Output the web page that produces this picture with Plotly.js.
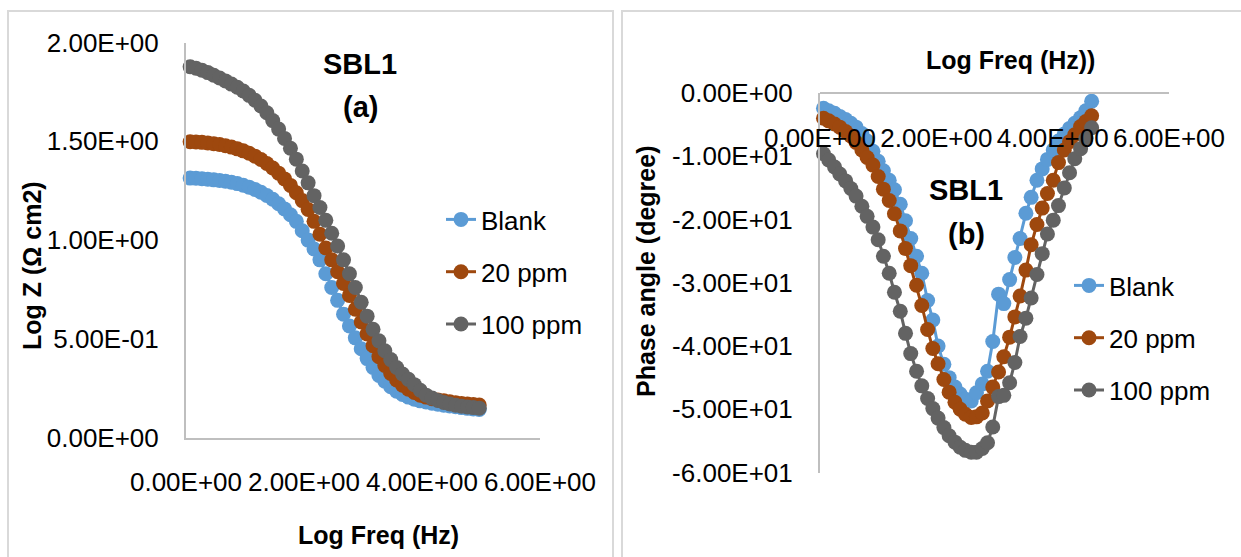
<!DOCTYPE html>
<html>
<head>
<meta charset="utf-8">
<script src="https://cdn.plot.ly/plotly-3.0.1.min.js"></script>
<style>
  html, body { margin: 0; padding: 0; background: #ffffff; }
  #chart { width: 1241px; height: 557px; }
</style>
</head>
<body>
<div id="chart"></div>
<script>
// (a) Bode magnitude: log frequency (Hz) and log |Z| (ohm cm2)
const logFreqA = [0.07, 0.17, 0.27, 0.37, 0.47, 0.57, 0.67, 0.77, 0.87, 0.97,
                  1.07, 1.17, 1.27, 1.37, 1.47, 1.57, 1.67, 1.77, 1.87, 1.97,
                  2.07, 2.17, 2.27, 2.37, 2.47, 2.57, 2.67, 2.77, 2.87, 2.97,
                  3.07, 3.17, 3.27, 3.37, 3.47, 3.57, 3.67, 3.77, 3.87, 3.97,
                  4.07, 4.17, 4.27, 4.37, 4.47, 4.57, 4.67, 4.77, 4.87, 4.97];
const logZBlank = [1.314, 1.313, 1.311, 1.308, 1.305, 1.302, 1.298, 1.293, 1.286, 1.278,
                   1.268, 1.256, 1.242, 1.226, 1.207, 1.184, 1.158, 1.128, 1.095, 1.047,
                   1.000, 0.955, 0.900, 0.830, 0.760, 0.695, 0.625, 0.565, 0.505, 0.450,
                   0.400, 0.355, 0.315, 0.285, 0.258, 0.235, 0.218, 0.205, 0.194, 0.186,
                   0.180, 0.174, 0.169, 0.164, 0.160, 0.156, 0.152, 0.148, 0.145, 0.142];
const logZ20ppm = [1.498, 1.497, 1.495, 1.492, 1.488, 1.484, 1.478, 1.471, 1.462, 1.452,
                   1.440, 1.425, 1.408, 1.388, 1.365, 1.339, 1.310, 1.277, 1.240, 1.200,
                   1.155, 1.095, 1.030, 0.960, 0.900, 0.840, 0.780, 0.720, 0.650, 0.585,
                   0.525, 0.465, 0.410, 0.365, 0.325, 0.292, 0.265, 0.245, 0.228, 0.215,
                   0.205, 0.197, 0.191, 0.186, 0.181, 0.177, 0.173, 0.170, 0.167, 0.165];
const logZ100ppm = [1.878, 1.870, 1.860, 1.848, 1.835, 1.821, 1.806, 1.790, 1.774, 1.755,
                    1.733, 1.708, 1.679, 1.645, 1.605, 1.562, 1.515, 1.465, 1.410, 1.350,
                    1.290, 1.225, 1.165, 1.100, 1.035, 0.970, 0.900, 0.830, 0.760, 0.685,
                    0.615, 0.548, 0.490, 0.440, 0.395, 0.355, 0.322, 0.295, 0.268, 0.240,
                    0.215, 0.200, 0.188, 0.178, 0.170, 0.164, 0.159, 0.155, 0.152, 0.149];

// (b) Bode phase: log frequency (Hz) and phase angle (degree)
const logFreqB = [0.06, 0.15, 0.25, 0.34, 0.44, 0.53, 0.62, 0.72, 0.81, 0.91,
                  1.00, 1.09, 1.19, 1.28, 1.38, 1.47, 1.56, 1.66, 1.75, 1.85,
                  1.94, 2.03, 2.13, 2.22, 2.32, 2.41, 2.50, 2.60, 2.69, 2.79,
                  2.88, 2.97, 3.07, 3.16, 3.26, 3.35, 3.44, 3.54, 3.63, 3.73,
                  3.82, 3.91, 4.01, 4.10, 4.20, 4.29, 4.38, 4.48, 4.57, 4.67];
const phaseBlank = [-2.4, -2.8, -3.2, -3.7, -4.2, -4.8, -5.4, -6.4, -7.6, -9.2,
                    -10.8, -12.3, -13.8, -15.3, -17.6, -20.2, -23.0, -25.8, -28.5, -32.8,
                    -35.9, -40.0, -42.9, -45.0, -46.5, -47.6, -48.4, -48.7, -47.4, -46.0,
                    -44.0, -39.3, -31.8, -33.3, -29.5, -26.0, -23.0, -19.0, -16.5, -13.8,
                    -12.0, -10.5, -9.0, -7.6, -6.5, -5.6, -4.8, -3.9, -2.8, -1.3];
const phase20ppm = [-4.0, -4.4, -4.9, -5.4, -6.1, -6.8, -7.8, -9.0, -10.2, -11.4,
                    -13.2, -15.2, -17.0, -19.1, -21.8, -24.6, -27.3, -30.4, -33.6, -37.4,
                    -40.4, -42.8, -45.3, -47.3, -48.9, -50.0, -50.8, -51.3, -51.2, -50.6,
                    -48.7, -46.5, -44.1, -41.7, -38.6, -35.4, -32.1, -28.0, -24.0, -20.8,
                    -18.2, -15.9, -13.8, -11.0, -9.0, -7.7, -6.6, -5.3, -4.5, -3.6];
const phase100ppm = [-9.6, -10.6, -11.7, -12.8, -13.9, -15.1, -16.3, -17.9, -19.5, -21.2,
                     -23.2, -25.8, -28.5, -31.5, -34.5, -38.0, -41.2, -44.0, -46.3, -48.3,
                     -49.9, -51.4, -52.9, -54.2, -55.2, -56.0, -56.5, -56.8, -56.8, -56.2,
                     -55.3, -52.8, -48.0, -47.8, -45.8, -42.6, -38.5, -35.6, -32.4, -28.7,
                     -25.4, -22.3, -20.1, -17.8, -15.0, -12.6, -10.4, -8.8, -7.2, -5.5];

const seriesNames = ['Blank', '20 ppm', '100 ppm'];
const seriesColors = ['#5B9BD5', '#9E480E', '#636363'];

// Axis ticks, written in the spreadsheet's scientific format
const freqTickVals = [0, 2, 4, 6];
const freqTickText = ['0.00E+00', '2.00E+00', '4.00E+00', '6.00E+00'];
const logZTickVals = [0, 0.5, 1, 1.5, 2];
const logZTickText = ['0.00E+00', '5.00E-01', '1.00E+00', '1.50E+00', '2.00E+00'];
const phaseTickVals = [0, -10, -20, -30, -40, -50, -60];
const phaseTickText = ['0.00E+00', '-1.00E+01', '-2.00E+01', '-3.00E+01',
                       '-4.00E+01', '-5.00E+01', '-6.00E+01'];

const W = 1241, H = 557;
const px = v => v / W;          // horizontal pixel -> paper fraction
const py = v => 1 - v / H;      // vertical pixel (from top) -> paper fraction

const magnitudeSeries = [logZBlank, logZ20ppm, logZ100ppm];
const phaseSeries = [phaseBlank, phase20ppm, phase100ppm];

const traces = [];
seriesNames.forEach((name, i) => {
  traces.push({
    type: 'scatter', mode: 'lines+markers', name: name,
    x: logFreqA, y: magnitudeSeries[i], xaxis: 'x', yaxis: 'y',
    legend: 'legend', legendgroup: 'mag' + i, cliponaxis: false,
    line: { color: seriesColors[i], width: 3 },
    marker: { color: seriesColors[i], size: 15 }
  });
});
seriesNames.forEach((name, i) => {
  traces.push({
    type: 'scatter', mode: 'lines+markers', name: name,
    x: logFreqB, y: phaseSeries[i], xaxis: 'x2', yaxis: 'y2',
    legend: 'legend2', legendgroup: 'ph' + i, cliponaxis: false,
    line: { color: seriesColors[i], width: 3 },
    marker: { color: seriesColors[i], size: 15 }
  });
});

const axisLine = { showline: true, linecolor: '#BFBFBF', linewidth: 2,
                   showgrid: false, zeroline: false, fixedrange: true,
                   ticks: 'outside', tickcolor: 'rgba(0,0,0,0)', tickmode: 'array' };

const titleFont = { family: 'Liberation Sans, Arial, sans-serif', size: 25, color: '#000000' };
const headFont = { family: 'Liberation Sans, Arial, sans-serif', size: 29, color: '#000000' };

function label(text, x, y, font, angle) {
  return { text: '<b>' + text + '</b>', xref: 'paper', yref: 'paper',
           x: px(x), y: py(y), xanchor: 'center', yanchor: 'middle',
           showarrow: false, font: font, textangle: angle || 0 };
}

const legendBase = { xanchor: 'left', yanchor: 'top', bgcolor: 'rgba(0,0,0,0)',
                     borderwidth: 0, tracegroupgap: 15.5,
                     font: { family: 'Liberation Sans, Arial, sans-serif', size: 26, color: '#000000' } };

const layout = {
  width: W, height: H,
  margin: { l: 0, r: 0, t: 0, b: 0 },
  paper_bgcolor: '#ffffff', plot_bgcolor: 'rgba(0,0,0,0)',
  font: { family: 'Liberation Sans, Arial, sans-serif', size: 26, color: '#000000' },
  showlegend: true,
  xaxis: Object.assign({}, axisLine, {
    domain: [px(186), px(540)], range: [0, 6], anchor: 'y',
    tickvals: freqTickVals, ticktext: freqTickText, ticklen: 20
  }),
  yaxis: Object.assign({}, axisLine, {
    domain: [py(437.6), py(42.6)], range: [0, 2], anchor: 'x',
    tickvals: logZTickVals, ticktext: logZTickText, ticklen: 20
  }),
  xaxis2: Object.assign({}, axisLine, {
    domain: [px(820), px(1169)], range: [0, 6], anchor: 'free', position: py(93),
    side: 'bottom', tickvals: freqTickVals, ticktext: freqTickText, ticklen: 22
  }),
  yaxis2: Object.assign({}, axisLine, {
    domain: [py(472.5), py(93)], range: [-60, 0], anchor: 'x2',
    tickvals: phaseTickVals, ticktext: phaseTickText, ticklen: 20
  }),
  legend: Object.assign({}, legendBase, { x: px(441), y: py(196) }),
  legend2: Object.assign({}, legendBase, { x: px(1069), y: py(262) }),
  annotations: [
    label('SBL1', 360, 64, headFont),
    label('(a)', 360, 107, headFont),
    label('SBL1', 966, 190, headFont),
    label('(b)', 966, 234, headFont),
    label('Log Freq (Hz)', 378, 535, titleFont),
    label('Log Z (Ω cm2)', 32, 266, titleFont, -90),
    label('Log Freq (Hz))', 1010, 60, titleFont),
    label('Phase angle (degree)', 646, 272, titleFont, -90)
  ],
  shapes: [
    { type: 'rect', xref: 'paper', yref: 'paper', layer: 'below',
      x0: px(8), x1: px(613), y0: -0.05, y1: py(11),
      line: { color: '#D9D9D9', width: 2 }, fillcolor: 'rgba(0,0,0,0)' },
    { type: 'rect', xref: 'paper', yref: 'paper', layer: 'below',
      x0: px(622), x1: 1.05, y0: -0.05, y1: py(11),
      line: { color: '#D9D9D9', width: 2 }, fillcolor: 'rgba(0,0,0,0)' }
  ]
};

Plotly.newPlot('chart', traces, layout, { displayModeBar: false, staticPlot: true });
</script>
</body>
</html>
